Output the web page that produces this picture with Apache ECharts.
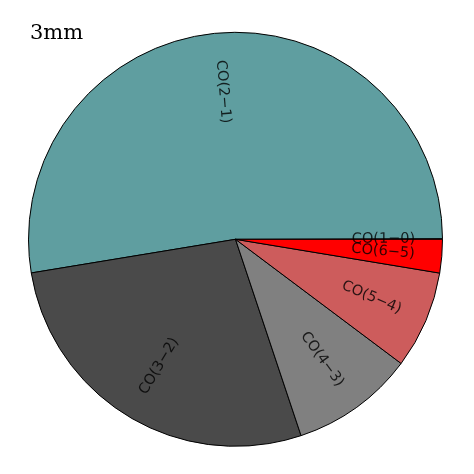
<!DOCTYPE html>
<html><head><meta charset="utf-8">
<script src="https://cdn.jsdelivr.net/npm/echarts@6/dist/echarts.min.js"></script>
<style>html,body{margin:0;padding:0;background:#fff}#c{width:474px;height:474px}</style>
</head><body><div id="c"></div>
<script>
const chartTitle = '3mm';
const categories = ['CO(1\u22120)', 'CO(2\u22121)', 'CO(3\u22122)', 'CO(4\u22123)', 'CO(5\u22124)', 'CO(6\u22125)'];
const shares = [0.05, 52.55, 27.53, 9.63, 7.63, 2.61];
const sliceColors = ['#ffa500', '#5f9ea0', '#4a4a4a', '#808080', '#cd5c5c', '#ff0000'];

const center = [235.5, 239.3];
const R = 207;
const labelRadiusFrac = 0.715;

const total = shares.reduce((a, b) => a + b, 0);

const pieData = categories.map((name, i) => ({
  name, value: shares[i], itemStyle: { color: sliceColors[i] }
}));

// label positions: middle of each wedge, in data units on the polar angle axis
let cum = 0;
const labelData = categories.map((name, i) => {
  const mid = cum + shares[i] / 2;
  cum += shares[i];
  const deg = mid / total * 360;
  let rot = deg + (Math.cos(deg * Math.PI / 180) > 0 ? 0 : 180);
  while (rot > 180) rot -= 360;
  while (rot < -180) rot += 360;
  return {
    name, value: [labelRadiusFrac, mid],
    label: { rotate: rot }
  };
});

const chart = echarts.init(document.getElementById('c'), null, { renderer: 'canvas' });
chart.setOption({
  animation: false,
  backgroundColor: '#fff',
  title: {
    text: chartTitle, left: 30, top: 23, padding: 0,
    textStyle: { fontFamily: 'DejaVu Serif', fontSize: 21, lineHeight: 21, fontWeight: 'normal', color: '#000' }
  },
  polar: { center, radius: R },
  angleAxis: {
    type: 'value', min: 0, max: total, startAngle: 0, clockwise: false,
    axisLine: { show: false }, axisTick: { show: false }, axisLabel: { show: false }, splitLine: { show: false }
  },
  radiusAxis: {
    type: 'value', min: 0, max: 1,
    axisLine: { show: false }, axisTick: { show: false }, axisLabel: { show: false }, splitLine: { show: false }
  },
  series: [
    {
      type: 'pie', center, radius: [0, R], startAngle: 0, clockwise: false,
      avoidLabelOverlap: false, silent: true, minAngle: 0, z: 1,
      label: { show: false }, labelLine: { show: false },
      itemStyle: { borderColor: '#000', borderWidth: 1 },
      emphasis: { disabled: true },
      data: pieData
    },
    {
      type: 'scatter', coordinateSystem: 'polar', symbolSize: 0, silent: true, z: 5,
      label: {
        show: true, position: 'inside', formatter: '{b}',
        align: 'center', verticalAlign: 'middle',
        color: '#000', fontFamily: 'DejaVu Sans', fontSize: 14.5
      },
      labelLayout: { hideOverlap: false },
      emphasis: { disabled: true },
      data: labelData
    }
  ]
});
</script></body></html>
